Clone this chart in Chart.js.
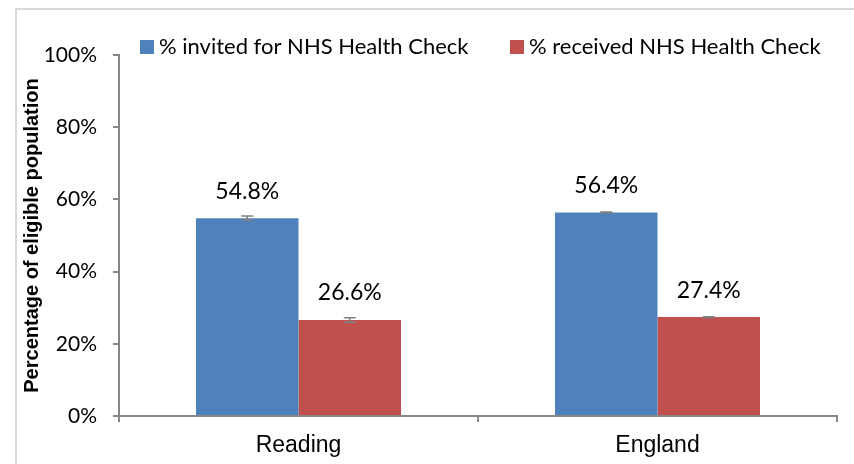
<!doctype html>
<html lang="en">
<head>
  <meta charset="utf-8">
  <title>NHS Health Check</title>
  <script src="https://cdn.jsdelivr.net/npm/chart.js"></script>
  <style>
    body { margin: 0; background: #fff; }
  </style>
</head>
<body>
  <canvas id="healthChart" width="854" height="464"></canvas>

  <script>
    // chart values
    const areas = ['Reading', 'England'];
    const invited = [54.8, 56.4];
    const received = [26.6, 27.4];
    const invitedErr = [0.6, 0.1];
    const receivedErr = [0.6, 0.1];
    const yTicks = [0, 20, 40, 60, 80, 100];

    const errors = [invitedErr, receivedErr];

    // outer frame, legend, error bars and value labels
    const extras = {
      id: 'extras',
      beforeDraw(chart) {
        const ctx = chart.ctx;
        ctx.save();
        ctx.strokeStyle = '#d9d9d9';
        ctx.lineWidth = 2;
        ctx.strokeRect(16, 9, 900, 600);
        ctx.restore();
      },
      afterDatasetsDraw(chart) {
        const ctx = chart.ctx;
        const y = chart.scales.y;
        ctx.save();
        chart.data.datasets.forEach((ds, i) => {
          const meta = chart.getDatasetMeta(i);
          meta.data.forEach((bar, j) => {
            const v = ds.data[j];
            const e = errors[i][j];
            const top = y.getPixelForValue(v + e);
            const bot = y.getPixelForValue(v - e);
            ctx.strokeStyle = '#808080';
            ctx.lineWidth = 1.5;
            ctx.beginPath();
            ctx.moveTo(bar.x, top); ctx.lineTo(bar.x, bot);
            ctx.moveTo(bar.x - 6, top); ctx.lineTo(bar.x + 6, top);
            ctx.moveTo(bar.x - 6, bot); ctx.lineTo(bar.x + 6, bot);
            ctx.stroke();

            ctx.fillStyle = '#000';
            ctx.font = '23px Lato';
            ctx.textAlign = 'center';
            ctx.textBaseline = 'middle';
            ctx.fillText(v.toFixed(1) + '%', bar.x, bar.y - 27);
          });
        });

        // legend
        const legendX = [140, 510];
        ctx.font = '22px Lato';
        ctx.textAlign = 'left';
        ctx.textBaseline = 'middle';
        chart.data.datasets.forEach((ds, i) => {
          ctx.fillStyle = ds.backgroundColor;
          ctx.fillRect(legendX[i], 40, 14, 14);
          ctx.fillStyle = '#000';
          ctx.fillText(ds.label, legendX[i] + 19, 47);
        });
        ctx.restore();
      }
    };

    const ctx = document.getElementById('healthChart').getContext('2d');
    new Chart(ctx, {
      type: 'bar',
      data: {
        labels: areas,
        datasets: [
          { label: '% invited for NHS Health Check', data: invited, backgroundColor: '#4f81bd' },
          { label: '% received NHS Health Check', data: received, backgroundColor: '#c0504d' }
        ]
      },
      options: {
        responsive: false,
        animation: false,
        layout: { padding: { top: 55, right: 17, bottom: 0, left: 0 } },
        categoryPercentage: 0.571,
        barPercentage: 1.0,
        plugins: {
          legend: { display: false },
          tooltip: { enabled: false }
        },
        scales: {
          x: {
            afterFit(scale) { scale.height = 48; },
            grid: { offset: true, drawOnChartArea: false, tickLength: 6, color: '#868686', lineWidth: 2 },
            border: { color: '#868686', width: 2 },
            ticks: { color: '#000', padding: 10, font: { family: 'Liberation Sans', size: 23 } }
          },
          y: {
            min: 0,
            max: 100,
            afterFit(scale) { scale.width = 119; },
            afterBuildTicks(scale) { scale.ticks = yTicks.map(v => ({ value: v })); },
            grid: { drawOnChartArea: false, tickLength: 6, color: '#868686', lineWidth: 2 },
            border: { color: '#868686', width: 2 },
            ticks: {
              color: '#000',
              padding: 16,
              font: { family: 'Lato', size: 21 },
              callback: v => v + '%'
            },
            title: {
              display: true,
              text: 'Percentage of eligible population',
              color: '#000',
              padding: { top: 20 },
              font: { family: 'Liberation Sans', size: 20, weight: 'bold' }
            }
          }
        }
      },
      plugins: [extras]
    });
  </script>
</body>
</html>
